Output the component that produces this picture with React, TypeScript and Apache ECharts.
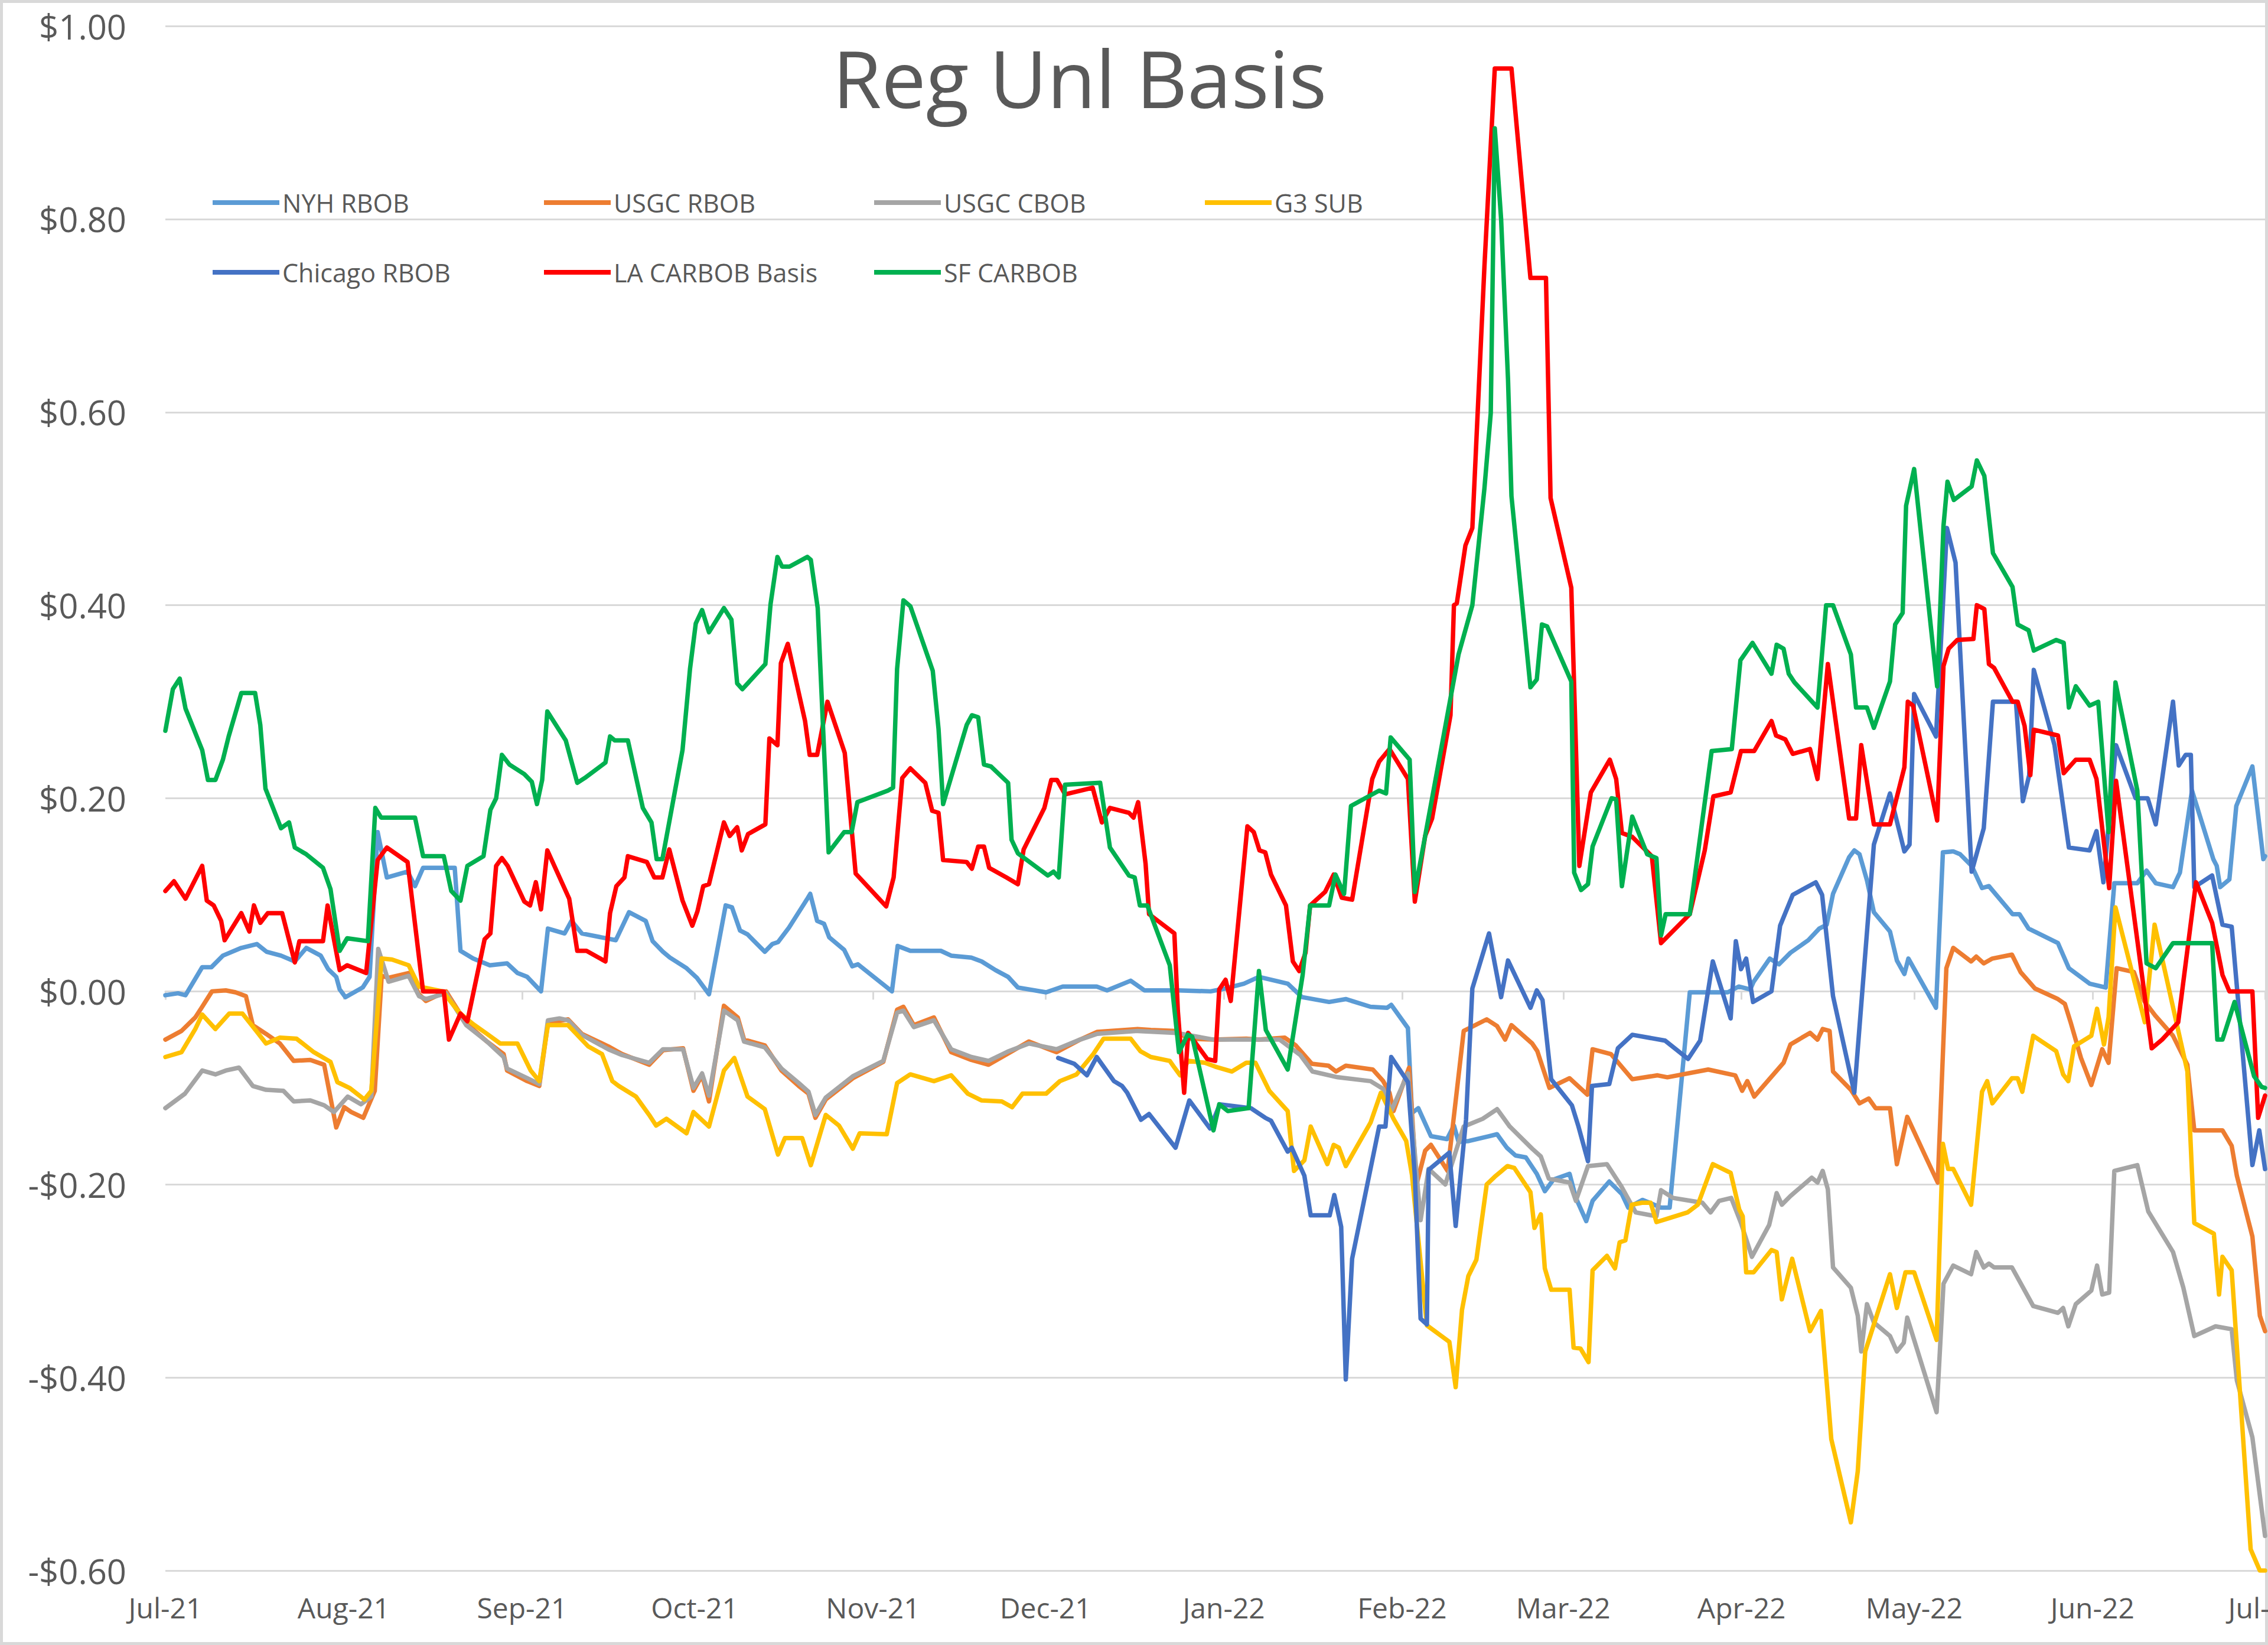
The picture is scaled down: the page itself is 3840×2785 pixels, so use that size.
import React, { useEffect, useRef } from "react";
import * as echarts from "echarts";

// Each point: [days since 1 Jul 2021, basis in $/gal]
const NYH_RBOB: [number, number][] = [
  [0, -0.004], [2.2, -0.002], [3.5, -0.004], [6.4, 0.025], [8, 0.025], [10, 0.037], [13.2, 0.045], [15.9, 0.049],
  [17.6, 0.041], [20.1, 0.037], [22.5, 0.031], [24.5, 0.045], [27, 0.037], [28.3, 0.023], [29.7, 0.015], [30.3, 0.002],
  [31.3, -0.006], [34.3, 0.004], [35.5, 0.015], [36.9, 0.165], [38.5, 0.118], [42.1, 0.124], [43.4, 0.109], [44.8, 0.128],
  [50.3, 0.128], [51.3, 0.042], [53.5, 0.034], [56.4, 0.027], [59.4, 0.029], [61.2, 0.019], [62.9, 0.015], [65.3, 0.0],
  [66.5, 0.065], [69.4, 0.06], [70.6, 0.073], [72.4, 0.06], [78.3, 0.053], [80.6, 0.082], [83.5, 0.073], [84.7, 0.052],
  [86.5, 0.041], [87.7, 0.035], [90.6, 0.024], [92.4, 0.014], [94.5, -0.003], [97.4, 0.089], [98.5, 0.087], [99.9, 0.063],
  [101.2, 0.059], [104.2, 0.041], [105.5, 0.049], [106.5, 0.051], [108.4, 0.066], [111.5, 0.095], [112.1, 0.101],
  [113.3, 0.073], [114.5, 0.07], [115.4, 0.056], [118, 0.043], [119.4, 0.026], [120.4, 0.028], [126.3, 0.0],
  [127.3, 0.047], [129.5, 0.042], [134.8, 0.042], [136.6, 0.037], [140.1, 0.035], [141.9, 0.031], [144.3, 0.022],
  [146.5, 0.015], [148.2, 0.004], [153.1, -0.001], [156, 0.005], [161.9, 0.005], [163.7, 0.001], [167.8, 0.011],
  [170.2, 0.001], [176.1, 0.001], [181.7, 0.0], [184.3, 0.003], [187.5, 0.008], [190.1, 0.015], [193.7, 0.01],
  [195.1, 0.008], [197.6, -0.006], [202.3, -0.011], [205.2, -0.008], [209.5, -0.016], [212.4, -0.017], [213.1, -0.014],
  [216, -0.038], [216.7, -0.126], [217.8, -0.121], [220, -0.15], [222.8, -0.153], [224, -0.139], [224.8, -0.156],
  [226.6, -0.155], [230.1, -0.15], [231.5, -0.148], [233.2, -0.162], [234.7, -0.17], [236.5, -0.172], [238.4, -0.189],
  [239.8, -0.207], [241.3, -0.195], [244.1, -0.189], [245.2, -0.214], [247, -0.238], [248.1, -0.217], [251, -0.197],
  [253.2, -0.21], [254.3, -0.224], [256.8, -0.216], [260, -0.224], [261.5, -0.224], [265, -0.001], [271.6, -0.001],
  [273.5, 0.005], [275.5, 0.002], [276.1, 0.01], [278.9, 0.034], [280.5, 0.028], [282.5, 0.04], [285.6, 0.053],
  [287.5, 0.065], [288.8, 0.069], [289.9, 0.101], [292.7, 0.139], [293.6, 0.146], [294.5, 0.142], [295.8, 0.115],
  [297, 0.082], [299.8, 0.062], [301, 0.032], [302.3, 0.018], [303, 0.034], [307.8, -0.017], [309, 0.144],
  [310.8, 0.145], [312, 0.142], [314, 0.13], [315.8, 0.107], [317, 0.109], [321.1, 0.08], [322.3, 0.08], [323.9, 0.065],
  [329, 0.05], [330.9, 0.024], [334.5, 0.008], [337.3, 0.004], [338.8, 0.112], [342.8, 0.112], [344.4, 0.125],
  [346, 0.112], [349, 0.108], [350.2, 0.123], [352.3, 0.208], [356, 0.137], [356.6, 0.13], [357.2, 0.108],
  [358.8, 0.116], [360, 0.192], [362.8, 0.233], [364.7, 0.137], [365, 0.14],
];

const USGC_RBOB: [number, number][] = [
  [0, -0.05], [2.8, -0.041], [5.2, -0.027], [6.4, -0.016], [8.1, 0.0], [10.5, 0.001], [12.2, -0.001], [14, -0.005],
  [15.2, -0.035], [17.5, -0.044], [19.9, -0.054], [22.3, -0.072], [25.2, -0.071], [27.6, -0.076], [29.7, -0.141],
  [31.1, -0.12], [32.3, -0.125], [34.4, -0.131], [36.4, -0.103], [37.6, 0.016], [38.8, 0.014], [42.3, 0.019],
  [44.1, -0.003], [45.3, -0.01], [48.8, 0.0], [52.3, -0.033], [55.9, -0.052], [58.8, -0.065], [59.4, -0.082],
  [62.9, -0.093], [65, -0.098], [66.5, -0.033], [70, -0.029], [72.4, -0.044], [77, -0.057], [79.4, -0.065],
  [84.1, -0.076], [86.5, -0.061], [90, -0.059], [91.8, -0.103], [93.3, -0.087], [94.5, -0.114], [97.1, -0.015],
  [99.5, -0.027], [100.6, -0.05], [104.2, -0.056], [107.1, -0.082], [110.1, -0.098], [111.8, -0.106], [113, -0.131],
  [114.8, -0.112], [119.5, -0.09], [124.8, -0.073], [127.2, -0.019], [128.3, -0.016], [130.1, -0.035], [133.6, -0.027],
  [136.6, -0.063], [140.1, -0.071], [143.1, -0.076], [146.6, -0.064], [150.1, -0.052], [154.9, -0.063], [159, -0.05],
  [162, -0.042], [169, -0.039], [171.3, -0.04], [175.7, -0.041], [177.8, -0.049], [182.2, -0.05], [187.9, -0.049],
  [190.1, -0.05], [194.6, -0.048], [196.5, -0.056], [199.3, -0.075], [202.2, -0.077], [203.5, -0.083], [205.2, -0.077],
  [209.9, -0.081], [211.7, -0.093], [212.8, -0.105], [213.5, -0.124], [216.2, -0.079], [217.5, -0.2], [219, -0.165],
  [220, -0.159], [222.9, -0.186], [225.7, -0.041], [229.7, -0.029], [231.5, -0.036], [232.9, -0.05], [234, -0.035],
  [237.6, -0.054], [238.5, -0.062], [240.6, -0.1], [244.1, -0.09], [247.2, -0.107], [248.1, -0.06], [251.3, -0.065],
  [255, -0.091], [259.4, -0.087], [261.1, -0.089], [268.2, -0.081], [272.9, -0.087], [274.1, -0.103], [275, -0.093],
  [276.2, -0.109], [281.3, -0.074], [282.5, -0.055], [285.9, -0.043], [287.2, -0.05], [288.1, -0.039], [289.3, -0.041],
  [289.9, -0.083], [293, -0.102], [294.5, -0.116], [296.1, -0.111], [297.3, -0.121], [299.8, -0.121], [301, -0.179],
  [302.8, -0.13], [305.9, -0.17], [308.1, -0.198], [309.6, 0.024], [310.8, 0.045], [313.9, 0.031], [314.8, 0.036],
  [316.1, 0.029], [317.6, 0.034], [321, 0.038], [322.5, 0.02], [325, 0.003], [329, -0.008], [330.2, -0.013],
  [331.2, -0.032], [333, -0.069], [334.8, -0.097], [336.7, -0.06], [337.8, -0.074], [339.2, 0.024], [342.2, 0.02],
  [344, -0.01], [345.9, -0.025], [349, -0.046], [351.5, -0.076], [352.7, -0.144], [357.6, -0.144], [359.2, -0.16],
  [360.1, -0.191], [362.8, -0.254], [364.1, -0.336], [365, -0.352],
];

const USGC_CBOB: [number, number][] = [
  [0, -0.121], [3.4, -0.106], [6.4, -0.082], [8.7, -0.086], [10.5, -0.082], [12.8, -0.079], [15.2, -0.098],
  [17.5, -0.102], [20.5, -0.103], [22.3, -0.114], [25.2, -0.113], [27.6, -0.118], [29.3, -0.125], [31.7, -0.109],
  [34, -0.117], [35.8, -0.109], [37, 0.044], [38.8, 0.01], [42.3, 0.016], [44.1, -0.005], [45.3, -0.008],
  [48.8, -0.002], [52.3, -0.035], [55.9, -0.052], [58.8, -0.068], [59.4, -0.08], [62.9, -0.09], [65, -0.096],
  [66.5, -0.03], [68.5, -0.028], [70, -0.03], [72.4, -0.045], [77, -0.06], [79.4, -0.066], [84.1, -0.074],
  [86.5, -0.06], [90, -0.06], [91.8, -0.1], [93.3, -0.085], [94.5, -0.108], [97.1, -0.02], [99.5, -0.03],
  [100.6, -0.052], [104.2, -0.058], [107.1, -0.08], [110.1, -0.095], [111.8, -0.104], [113, -0.128], [114.8, -0.11],
  [119.5, -0.088], [124.8, -0.072], [127.2, -0.022], [128.3, -0.02], [130.1, -0.037], [133.6, -0.03], [136.6, -0.06],
  [140.1, -0.068], [143.1, -0.072], [146.6, -0.062], [150.1, -0.054], [154.9, -0.06], [159, -0.05], [162, -0.044],
  [169, -0.041], [175.7, -0.043], [182.2, -0.05], [190.1, -0.05], [193.7, -0.05], [197.3, -0.066], [199.4, -0.083],
  [203.8, -0.089], [209.5, -0.093], [211.7, -0.101], [213.1, -0.124], [216, -0.085], [218.2, -0.237], [219.6, -0.184],
  [222.5, -0.2], [225.7, -0.14], [229, -0.132], [231.5, -0.122], [233.7, -0.14], [237.6, -0.163], [239.1, -0.171],
  [240.5, -0.194], [244.1, -0.198], [245.2, -0.217], [247.3, -0.181], [250.6, -0.179], [253.1, -0.202], [255.6, -0.229],
  [259.2, -0.233], [260, -0.206], [262.1, -0.214], [267.2, -0.219], [268.6, -0.229], [270.1, -0.217], [272.2, -0.214],
  [273.9, -0.24], [275.8, -0.275], [278.8, -0.242], [280.1, -0.209], [281, -0.221], [282.5, -0.212], [286.2, -0.193],
  [287.2, -0.198], [288.1, -0.186], [289, -0.205], [289.9, -0.286], [293, -0.307], [294.2, -0.336], [294.8, -0.373],
  [295.8, -0.324], [297, -0.343], [299.8, -0.357], [301, -0.373], [302.2, -0.364], [302.8, -0.338], [307.9, -0.436],
  [309.1, -0.303], [310.8, -0.284], [313.9, -0.293], [314.8, -0.27], [316.1, -0.286], [317, -0.282], [317.9, -0.286],
  [321, -0.286], [324.7, -0.326], [329, -0.333], [329.9, -0.328], [330.8, -0.347], [332.1, -0.324], [334.8, -0.31],
  [335.8, -0.284], [336.7, -0.314], [337.9, -0.312], [338.8, -0.186], [342.8, -0.18], [344.7, -0.228], [349, -0.27],
  [350.8, -0.307], [352.7, -0.357], [356.4, -0.347], [359.2, -0.35], [360.1, -0.403], [362.8, -0.462], [365, -0.564],
];

const G3_SUB: [number, number][] = [
  [0, -0.068], [2.8, -0.063], [5.2, -0.039], [6.4, -0.024], [8.7, -0.039], [11.1, -0.023], [13.4, -0.023],
  [15.8, -0.041], [17.5, -0.054], [19.9, -0.048], [22.8, -0.049], [25.8, -0.063], [28.7, -0.073], [29.9, -0.094],
  [32, -0.1], [34.6, -0.112], [35.8, -0.103], [37.6, 0.034], [39.4, 0.033], [42.3, 0.027], [44.1, 0.005], [48.2, 0.0],
  [51.1, -0.022], [53.5, -0.034], [55.9, -0.044], [58.2, -0.054], [61.2, -0.054], [63.5, -0.082], [65, -0.093],
  [66.5, -0.035], [70, -0.035], [73.5, -0.057], [75.9, -0.065], [77.7, -0.093], [78.8, -0.098], [81.8, -0.109],
  [84.1, -0.128], [85.3, -0.139], [87.1, -0.132], [90.6, -0.147], [91.8, -0.125], [94.5, -0.14], [97.1, -0.082],
  [98.9, -0.069], [101.2, -0.109], [104.2, -0.122], [106.5, -0.169], [107.7, -0.152], [110.7, -0.152], [112.2, -0.18],
  [114.8, -0.128], [117.1, -0.139], [119.5, -0.163], [120.7, -0.147], [125.4, -0.148], [127.2, -0.095], [129.5, -0.086],
  [133.6, -0.093], [136.6, -0.087], [139.5, -0.106], [141.9, -0.113], [145.4, -0.114], [147.2, -0.12], [149, -0.106],
  [153.1, -0.106], [155.5, -0.093], [158.4, -0.086], [161.3, -0.065], [163.1, -0.049], [167.8, -0.049], [169.5, -0.062],
  [171.3, -0.068], [174.6, -0.072], [175.3, -0.078], [176.4, -0.087], [177.8, -0.072], [180.7, -0.074], [182.5, -0.078],
  [185.4, -0.083], [187.9, -0.074], [189.5, -0.074], [191.9, -0.103], [195.1, -0.124], [196.2, -0.186], [198, -0.175],
  [199.1, -0.14], [202, -0.179], [203.1, -0.159], [204, -0.162], [205.2, -0.181], [209.5, -0.136], [211.3, -0.105],
  [213.5, -0.132], [215.7, -0.155], [216.7, -0.19], [218.2, -0.28], [219.3, -0.346], [223.2, -0.363], [224.3, -0.41],
  [225.4, -0.33], [226.5, -0.295], [227.9, -0.278], [229.7, -0.2], [231.1, -0.192], [233.3, -0.181], [234.5, -0.183],
  [237.3, -0.208], [238, -0.245], [239.1, -0.231], [239.8, -0.287], [240.9, -0.309], [244.1, -0.309], [244.8, -0.369],
  [246, -0.37], [247.4, -0.384], [248.1, -0.289], [250.6, -0.274], [252, -0.287], [252.8, -0.26], [253.8, -0.258],
  [254.9, -0.221], [256.7, -0.219], [258.2, -0.219], [259.2, -0.239], [261.4, -0.235], [264.6, -0.229], [266.4, -0.221],
  [269, -0.179], [272.1, -0.188], [273.6, -0.226], [274.2, -0.233], [274.8, -0.291], [276.1, -0.291], [279.2, -0.268],
  [280.1, -0.27], [281, -0.319], [282.8, -0.277], [285.9, -0.352], [287.8, -0.331], [289.6, -0.464], [293, -0.55],
  [294.2, -0.497], [295.5, -0.373], [299.8, -0.293], [301, -0.328], [302.5, -0.291], [304, -0.291], [307.9, -0.361],
  [309, -0.158], [309.9, -0.184], [310.8, -0.184], [313.9, -0.221], [315.8, -0.104], [316.7, -0.093], [317.6, -0.116],
  [321, -0.09], [322, -0.09], [322.8, -0.104], [324.7, -0.046], [328.7, -0.062], [329.9, -0.086], [330.8, -0.093],
  [331.8, -0.057], [334.8, -0.046], [335.8, -0.018], [337, -0.055], [337.8, -0.027], [339, 0.087], [344.1, -0.032],
  [345.8, 0.069], [351.5, -0.083], [352.7, -0.24], [356.1, -0.251], [357, -0.314], [357.6, -0.275], [359.2, -0.289],
  [362.5, -0.578], [364.1, -0.6], [365, -0.6],
];

const CHICAGO_RBOB: [number, number][] = [
  [155.2, -0.069], [158, -0.075], [160.2, -0.087], [161.9, -0.068], [164.9, -0.093], [166.3, -0.098], [167.2, -0.105],
  [169.6, -0.133], [171, -0.127], [175.6, -0.162], [178, -0.113], [181.6, -0.142], [183.3, -0.117], [188.7, -0.121],
  [191.2, -0.131], [192.2, -0.134], [195.1, -0.166], [195.8, -0.162], [198, -0.191], [199.1, -0.232], [202.4, -0.232],
  [203.2, -0.211], [204.4, -0.244], [205.2, -0.402], [206.3, -0.277], [211, -0.14], [212.1, -0.14], [213.1, -0.068],
  [216, -0.094], [217.2, -0.191], [218.2, -0.339], [219.3, -0.345], [219.6, -0.185], [223.2, -0.167], [224.3, -0.243],
  [226.1, -0.133], [227.2, 0.003], [230.1, 0.06], [232.2, -0.006], [233.4, 0.032], [237.3, -0.017], [238.4, 0.001],
  [239.4, -0.009], [240.9, -0.091], [244.5, -0.118], [245.6, -0.139], [247.3, -0.176], [248, -0.098], [251, -0.096],
  [252.5, -0.059], [255, -0.045], [260.7, -0.051], [264.7, -0.07], [266.8, -0.051], [269, 0.031], [272.1, -0.028],
  [273, 0.052], [273.9, 0.023], [274.8, 0.034], [276, -0.011], [279.2, 0.0], [280.7, 0.068], [282.9, 0.1],
  [286.9, 0.113], [288, 0.1], [289.9, -0.005], [293.6, -0.105], [297, 0.152], [299.8, 0.205], [302.3, 0.145],
  [303.2, 0.152], [304, 0.308], [307.8, 0.264], [309.7, 0.48], [311.2, 0.444], [314, 0.124], [316.1, 0.169],
  [317.7, 0.3], [321.7, 0.3], [322.9, 0.197], [324, 0.224], [324.8, 0.333], [328.4, 0.255], [330.9, 0.149],
  [334.5, 0.146], [335.7, 0.166], [336.9, 0.113], [339.1, 0.255], [342.5, 0.2], [344.6, 0.2], [346, 0.173], [349, 0.3],
  [350, 0.234], [351.2, 0.245], [352.1, 0.245], [352.7, 0.108], [355.8, 0.12], [357.6, 0.069], [359.2, 0.067],
  [362.8, -0.18], [364, -0.144], [365, -0.184],
];

const LA_CARBOB: [number, number][] = [
  [0, 0.104], [1.5, 0.114], [3.5, 0.096], [6.4, 0.13], [7.2, 0.094], [8.4, 0.089], [9.7, 0.073], [10.3, 0.053],
  [13.2, 0.081], [14.6, 0.062], [15.4, 0.089], [16.5, 0.071], [17.8, 0.081], [20.3, 0.081], [22.5, 0.03], [23.3, 0.052],
  [27.4, 0.052], [28.2, 0.089], [30.3, 0.022], [31.6, 0.027], [34.9, 0.019], [36.9, 0.136], [38.5, 0.149], [42.1, 0.134],
  [44.8, 0.0], [48.4, 0.0], [49.3, -0.05], [51.3, -0.023], [52.5, -0.031], [55.5, 0.054], [56.5, 0.06], [57.5, 0.13],
  [58.5, 0.138], [59.5, 0.13], [62.4, 0.093], [63.4, 0.089], [64.4, 0.113], [65.3, 0.085], [66.4, 0.146], [70.2, 0.096],
  [71.6, 0.042], [73.2, 0.042], [76.5, 0.031], [77.3, 0.081], [78.4, 0.109], [79.8, 0.118], [80.4, 0.14], [83.7, 0.134],
  [85, 0.118], [86.4, 0.118], [87.6, 0.147], [89.9, 0.094], [91.6, 0.068], [92.5, 0.083], [93.5, 0.109], [94.5, 0.111],
  [97.1, 0.175], [98.1, 0.161], [99.4, 0.17], [100.2, 0.146], [101.3, 0.163], [104.3, 0.173], [105, 0.262],
  [106.4, 0.255], [107, 0.34], [108.2, 0.36], [111.2, 0.28], [112, 0.245], [113.3, 0.245], [115.1, 0.3], [118.1, 0.247],
  [120, 0.122], [125.3, 0.088], [126.6, 0.118], [128.1, 0.221], [129.5, 0.231], [132.1, 0.216], [133.3, 0.187],
  [134.4, 0.185], [135.2, 0.136], [139.3, 0.134], [140.2, 0.127], [141.3, 0.15], [142.3, 0.15], [143.2, 0.128],
  [146.2, 0.118], [148.2, 0.111], [149.2, 0.147], [152.8, 0.19], [154, 0.219], [155, 0.219], [156.4, 0.204],
  [161.2, 0.211], [162.8, 0.175], [164.2, 0.19], [167.5, 0.185], [168.3, 0.18], [169.1, 0.196], [170.4, 0.132],
  [171, 0.08], [175.4, 0.06], [176, -0.02], [177.1, -0.105], [177.8, -0.043], [181.1, -0.07], [182.5, -0.072],
  [183.2, 0.002], [184.3, 0.012], [185.2, -0.01], [188.1, 0.171], [189.2, 0.165], [190.2, 0.146], [191.2, 0.144],
  [192.2, 0.121], [194.8, 0.089], [196, 0.031], [197.1, 0.021], [198.2, 0.04], [199, 0.089], [201.6, 0.103],
  [203.1, 0.121], [204.5, 0.097], [206.3, 0.095], [209.8, 0.22], [211, 0.238], [212.8, 0.251], [216, 0.22],
  [217.2, 0.093], [219, 0.161], [220.2, 0.179], [223.4, 0.286], [224, 0.4], [224.5, 0.402], [226, 0.462], [227.2, 0.48],
  [229.3, 0.751], [231.1, 0.956], [234, 0.956], [237.3, 0.739], [240, 0.739], [240.8, 0.511], [244.4, 0.418],
  [245.8, 0.13], [247.8, 0.206], [251.1, 0.24], [252.2, 0.22], [253.2, 0.164], [255, 0.16], [258.4, 0.14], [260, 0.05],
  [265, 0.08], [267.6, 0.146], [269.1, 0.202], [272.1, 0.206], [273.9, 0.249], [276.2, 0.249], [279.2, 0.28],
  [280, 0.265], [281.6, 0.261], [282.9, 0.246], [285.9, 0.251], [287.2, 0.22], [289, 0.339], [292.7, 0.179],
  [293.9, 0.179], [294.8, 0.255], [297, 0.173], [299.8, 0.173], [302.3, 0.232], [302.9, 0.3], [303.8, 0.296],
  [308, 0.177], [309.1, 0.337], [310, 0.355], [311.5, 0.364], [314.3, 0.365], [314.9, 0.4], [316.2, 0.396],
  [317, 0.339], [317.9, 0.335], [321.1, 0.3], [322, 0.3], [323.2, 0.275], [324.2, 0.224], [324.8, 0.271], [329, 0.265],
  [330, 0.226], [332.1, 0.24], [334.5, 0.24], [335.7, 0.22], [337.9, 0.107], [339.1, 0.218], [345.3, -0.059],
  [347.1, -0.05], [349.9, -0.032], [353, 0.113], [355.8, 0.071], [357.6, 0.017], [358.8, 0.0], [362.8, 0.0],
  [363.8, -0.131], [365, -0.108],
];

const SF_CARBOB: [number, number][] = [
  [0, 0.27], [1.3, 0.313], [2.5, 0.324], [3.5, 0.293], [6.4, 0.25], [7.4, 0.219], [8.7, 0.219], [10, 0.24], [11, 0.264],
  [13.2, 0.309], [15.6, 0.309], [16.5, 0.276], [17.4, 0.21], [20.1, 0.169], [21.5, 0.175], [22.5, 0.149], [24.5, 0.142],
  [27.4, 0.128], [28.7, 0.106], [30.3, 0.042], [31.6, 0.055], [35.2, 0.052], [36.5, 0.19], [37.5, 0.18], [43.4, 0.18],
  [44.8, 0.14], [48.4, 0.14], [49.7, 0.104], [51.3, 0.094], [52.5, 0.13], [55.3, 0.14], [56.5, 0.188], [57.5, 0.2],
  [58.5, 0.245], [59.8, 0.235], [62.4, 0.225], [63.7, 0.217], [64.6, 0.194], [65.5, 0.219], [66.4, 0.29], [69.6, 0.26],
  [71.6, 0.216], [72.9, 0.221], [76.5, 0.237], [77.3, 0.264], [78.1, 0.26], [80.4, 0.26], [83, 0.19], [84.5, 0.175],
  [85.4, 0.137], [86.4, 0.137], [89.9, 0.25], [91.2, 0.334], [92.2, 0.381], [93.3, 0.395], [94.5, 0.372], [97.1, 0.397],
  [98.4, 0.385], [99.4, 0.319], [100.3, 0.313], [104.3, 0.339], [105.2, 0.401], [106.4, 0.45], [107.2, 0.44],
  [108.5, 0.44], [111.6, 0.45], [112.2, 0.447], [113.4, 0.397], [115.3, 0.144], [118, 0.165], [119.3, 0.165],
  [120.3, 0.196], [125.6, 0.208], [126.5, 0.211], [127.2, 0.334], [128.3, 0.405], [129.5, 0.399], [133.4, 0.332],
  [134.4, 0.272], [135.2, 0.194], [139.3, 0.276], [140.2, 0.286], [141.3, 0.284], [142.3, 0.235], [143.5, 0.233],
  [146.5, 0.216], [147.1, 0.157], [148.2, 0.143], [153.4, 0.12], [154.4, 0.124], [155.3, 0.118], [156.4, 0.214],
  [162.5, 0.216], [164.2, 0.149], [167.5, 0.12], [168.5, 0.118], [169.4, 0.089], [170.7, 0.089], [174.6, 0.027],
  [176.2, -0.063], [177.7, -0.045], [178.5, -0.047], [182.2, -0.144], [183.2, -0.117], [184.7, -0.124], [188.3, -0.121],
  [190.1, 0.021], [191.3, -0.04], [195.1, -0.081], [197.7, 0.017], [199, 0.089], [202.3, 0.089], [203.4, 0.121],
  [204.9, 0.101], [206.1, 0.192], [211, 0.208], [212.2, 0.205], [213, 0.263], [216.3, 0.24], [217.2, 0.103],
  [219, 0.161], [224.8, 0.349], [227.2, 0.4], [229.3, 0.521], [230.4, 0.599], [231.1, 0.894], [232.2, 0.8],
  [233.4, 0.634], [234, 0.513], [237.3, 0.315], [238.4, 0.323], [239.3, 0.38], [240.2, 0.378], [244.4, 0.321],
  [244.9, 0.123], [246.1, 0.105], [247.3, 0.111], [248.1, 0.15], [251.4, 0.2], [252.2, 0.199], [253.2, 0.109],
  [255, 0.181], [257.6, 0.142], [259.2, 0.138], [260, 0.058], [260.8, 0.08], [265, 0.08], [268.8, 0.249],
  [272.3, 0.251], [273.8, 0.343], [275.9, 0.361], [279.2, 0.329], [280.1, 0.359], [281.3, 0.355], [282.2, 0.329],
  [283.2, 0.32], [287.2, 0.294], [288.7, 0.4], [289.9, 0.4], [293, 0.349], [293.9, 0.294], [295.8, 0.294], [297, 0.273],
  [299.8, 0.321], [300.7, 0.38], [302, 0.392], [302.6, 0.503], [304, 0.541], [308, 0.316], [309.1, 0.482],
  [309.8, 0.528], [310.9, 0.509], [314, 0.523], [314.9, 0.55], [316.2, 0.534], [317.7, 0.454], [321.1, 0.419],
  [322, 0.38], [323.9, 0.374], [324.8, 0.353], [328.7, 0.364], [330, 0.361], [330.9, 0.294], [332.1, 0.316],
  [334.5, 0.296], [336, 0.3], [337.8, 0.165], [339, 0.32], [342.8, 0.208], [344.4, 0.029], [346, 0.024], [349, 0.05],
  [355.8, 0.05], [356.7, -0.05], [357.6, -0.05], [359.7, -0.011], [363.1, -0.088], [364.4, -0.099], [365, -0.1],
];

const SERIES_NAMES = [
  "NYH RBOB", "USGC RBOB", "USGC CBOB", "G3 SUB", "Chicago RBOB", "LA CARBOB Basis", "SF CARBOB",
];
const SERIES_DATA = [NYH_RBOB, USGC_RBOB, USGC_CBOB, G3_SUB, CHICAGO_RBOB, LA_CARBOB, SF_CARBOB];
const SERIES_COLORS = ["#5B9BD5", "#ED7D31", "#A5A5A5", "#FFC000", "#4472C4", "#FF0000", "#00B050"];
const MONTH_LABELS = ["Jan", "Feb", "Mar", "Apr", "May", "Jun", "Jul", "Aug", "Sep", "Oct", "Nov", "Dec"];
const TITLE = "Reg Unl Basis";
const Y_MIN = -0.6;
const Y_MAX = 1.0;
const Y_STEP = 0.2;

const FONT = "'Open Sans', 'Noto Sans', sans-serif";
const TEXT_COLOR = "#595959";
const GRID_COLOR = "#D9D9D9";

export default function App() {
  const ref = useRef<HTMLDivElement>(null);

  useEffect(() => {
    document.body.style.margin = "0";
    document.body.style.overflow = "hidden";
    if (!ref.current) return;
    const chart = echarts.init(ref.current, undefined, { renderer: "svg" });

    const T0 = new Date(2021, 6, 1).getTime();
    const T1 = new Date(2022, 6, 1).getTime();
    const DAY = 86400000;

    // legend placement (two rows, four columns)
    const legendCols = [360, 921, 1480, 2040];
    const legendRows = [317, 435];
    const legends = SERIES_NAMES.map((name, i) => ({
      data: [name],
      left: legendCols[i % 4],
      top: legendRows[Math.floor(i / 4)],
      padding: 0,
      icon: "rect",
      itemWidth: 113,
      itemHeight: 8,
      selectedMode: false,
      textStyle: { fontFamily: FONT, fontSize: 43, color: TEXT_COLOR, lineHeight: 52 },
    }));

    const option: any = {
      animation: false,
      color: SERIES_COLORS,
      backgroundColor: "#ffffff",
      grid: { left: 280, right: 5, top: 44, bottom: 126, containLabel: false, outerBoundsMode: "none" },
      legend: legends,
      xAxis: [
        {
          type: "time",
          min: T0,
          max: T1,
          splitNumber: 12,
          axisLine: { show: false, onZero: false },
          axisTick: { show: false },
          splitLine: { show: false },
          axisLabel: {
            fontFamily: FONT,
            fontSize: 48,
            color: TEXT_COLOR,
            margin: 38,
            hideOverlap: false,
            formatter: (val: number) => {
              const d = new Date(val);
              return `${MONTH_LABELS[d.getMonth()]}-${String(d.getFullYear()).slice(2)}`;
            },
          },
        },
        {
          type: "time",
          min: T0,
          max: T1,
          splitNumber: 12,
          position: "bottom",
          axisLine: { show: true, onZero: true, lineStyle: { color: GRID_COLOR, width: 3 } },
          axisTick: { show: true, length: 14, lineStyle: { color: GRID_COLOR, width: 3 } },
          axisLabel: { show: false },
          splitLine: { show: false },
        },
      ],
      yAxis: {
        type: "value",
        min: Y_MIN,
        max: Y_MAX,
        interval: Y_STEP,
        axisLine: { show: false },
        axisTick: { show: false },
        splitLine: { lineStyle: { color: GRID_COLOR, width: 3 } },
        axisLabel: {
          fontFamily: FONT,
          fontSize: 58,
          color: TEXT_COLOR,
          margin: 66,
          formatter: (v: number) => {
            const r = Math.round(v * 100) / 100;
            return (r < 0 ? "-" : "") + "$" + Math.abs(r).toFixed(2);
          },
        },
      },
      series: SERIES_NAMES.map((name, i) => ({
        name,
        type: "line",
        xAxisIndex: 0,
        showSymbol: false,
        symbol: "none",
        clip: true,
        lineStyle: { width: 7.5, color: SERIES_COLORS[i], cap: "round", join: "round" },
        itemStyle: { color: SERIES_COLORS[i] },
        emphasis: { disabled: true },
        data: SERIES_DATA[i].map(([d, v]) => [T0 + d * DAY, v]),
      })),
      graphic: [
        {
          type: "text",
          x: 1828,
          y: 131,
          style: {
            text: TITLE,
            fontFamily: FONT,
            fontSize: 134,
            fill: TEXT_COLOR,
            align: "center",
            verticalAlign: "middle",
          },
        },
        {
          type: "rect",
          shape: { x: 2.5, y: 2.5, width: 3835, height: 2780 },
          style: { fill: "none", stroke: GRID_COLOR, lineWidth: 5 },
          silent: true,
        },
      ],
    };

    chart.setOption(option);
    return () => chart.dispose();
  }, []);

  return (
    <div
      ref={ref}
      style={{ width: 3840, height: 2785, position: "absolute", left: 0, top: 0 }}
    />
  );
}
